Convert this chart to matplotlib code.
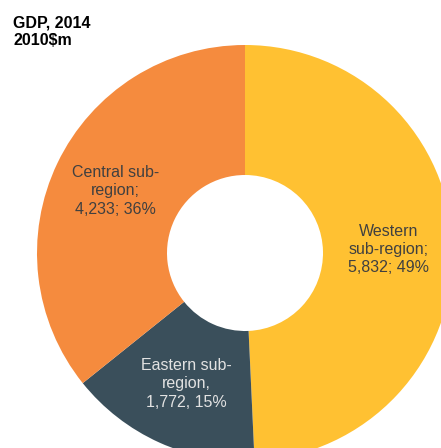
import matplotlib.pyplot as plt

plt.rcParams['font.family'] = ['Liberation Sans', 'DejaVu Sans']

# GDP by sub-region, 2014 (2010$m)
regions = ['Western', 'Eastern', 'Central']
gdp = [5832, 1772, 4233]
label_lines = [
    'Western\nsub-region;\n{v}; {p}%',
    'Eastern sub-\nregion,\n{v}, {p}%',
    'Central sub-\nregion;\n{v}; {p}%',
]
colors = ['#FFC132', '#3A4F5B', '#F58B3E']
text_colors = ['#404040', '#E2E2E2', '#404040']

total = sum(gdp)
labels = [fmt.format(v=f'{v:,}', p=round(v / total * 100))
          for fmt, v in zip(label_lines, gdp)]

fig = plt.figure(figsize=(4.41, 4.48), dpi=100)
ax = fig.add_axes([0, 0, 1, 1])

wedges, texts = ax.pie(
    gdp, labels=labels, colors=colors,
    startangle=90, counterclock=False,
    center=(245, 195), radius=208,
    labeldistance=0.69,
    wedgeprops=dict(width=130, linewidth=0),
    textprops=dict(ha='center', va='center', fontsize=11.5,
                   linespacing=1.27, multialignment='center'),
)
for t, c in zip(texts, text_colors):
    t.set_color(c)

ax.set_xlim(0, 441)
ax.set_ylim(0, 448)
ax.set_aspect('equal')
ax.axis('off')

fig.text(13 / 441, 1 - 15 / 448, 'GDP, 2014\n2010$m', ha='left', va='top',
         fontsize=11.5, fontweight='bold', linespacing=1.25, color='black')

fig.savefig('out.png', dpi=100)
